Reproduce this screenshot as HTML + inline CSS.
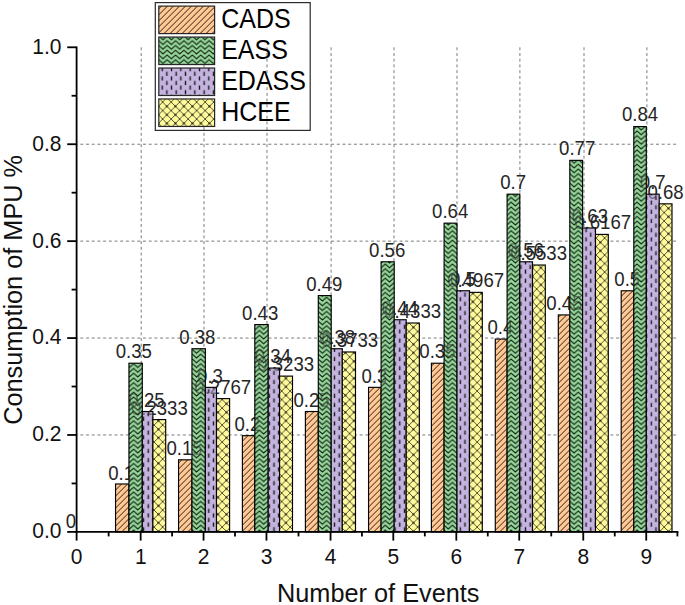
<!DOCTYPE html>
<html><head><meta charset="utf-8"><style>
html,body{margin:0;padding:0;background:#fff;}
svg{display:block;}
text{font-family:"Liberation Sans",sans-serif;}
</style></head><body>
<svg width="685" height="605" viewBox="0 0 685 605">
<defs>
<pattern id="pC" patternUnits="userSpaceOnUse" x="5.6" y="0" width="6" height="6">
<rect width="6" height="6" fill="#FFC894"/>
<path d="M-1,7 L7,-1 M-1,1 L1,-1 M5,7 L7,5" stroke="#24160c" stroke-width="0.95"/>
</pattern>
<pattern id="pE" patternUnits="userSpaceOnUse" x="7.75" y="2.7" width="8.39" height="4.75">
<rect width="8.39" height="4.75" fill="#96D69B"/>
<path d="M-2.1,1.9 L0,0 L4.2,3.8 L8.39,0 L10.5,1.9 M-2.1,6.65 L0,4.75 L4.2,8.55 L8.39,4.75 L10.5,6.65 M-2.1,-2.85 L0,-4.75 L4.2,-0.95 L8.39,-4.75 L10.5,-2.85" fill="none" stroke="#0a1a0a" stroke-width="1.0"/>
</pattern>
<pattern id="pD" patternUnits="userSpaceOnUse" x="6.17" y="6.9" width="9.316" height="9.2">
<rect width="9.316" height="9.2" fill="#C4B2DF"/>
<path d="M2.33,0.5 V4.5 M6.99,5.1 V9.1" stroke="#1a1a1a" stroke-width="1.35"/>
</pattern>
<pattern id="pH" patternUnits="userSpaceOnUse" x="1.15" y="0.05" width="8.5" height="8.5">
<rect width="8.5" height="8.5" fill="#FFFA9C"/>
<path d="M-1,9.5 L9.5,-1 M-1,-1 L9.5,9.5 M-1,1 L1,-1 M7.5,9.5 L9.5,7.5 M7.5,-1 L9.5,1 M-1,7.5 L1,9.5" stroke="#404024" stroke-width="0.9"/>
<circle cx="4.25" cy="4.25" r="1.0" fill="#000"/>
</pattern>
</defs>
<rect width="685" height="605" fill="#fff"/>
<g stroke="#7c7c7c" stroke-width="1" stroke-dasharray="3,2.7"><line x1="141.20" y1="47.30" x2="141.20" y2="531.90"/><line x1="204.00" y1="47.30" x2="204.00" y2="531.90"/><line x1="267.00" y1="47.30" x2="267.00" y2="531.90"/><line x1="331.10" y1="47.30" x2="331.10" y2="531.90"/><line x1="394.00" y1="47.30" x2="394.00" y2="531.90"/><line x1="457.00" y1="47.30" x2="457.00" y2="531.90"/><line x1="519.90" y1="47.30" x2="519.90" y2="531.90"/><line x1="584.00" y1="47.30" x2="584.00" y2="531.90"/><line x1="646.90" y1="47.30" x2="646.90" y2="531.90"/><line x1="76.60" y1="434.98" x2="678.2" y2="434.98" stroke-dashoffset="2"/><line x1="76.60" y1="338.06" x2="678.2" y2="338.06" stroke-dashoffset="2"/><line x1="76.60" y1="241.14" x2="678.2" y2="241.14" stroke-dashoffset="2"/><line x1="76.60" y1="144.22" x2="678.2" y2="144.22" stroke-dashoffset="2"/></g>
<rect x="155.3" y="2.6" width="154.90" height="127.80" fill="none" stroke="#2a2a2a" stroke-width="1.2"/>
<rect x="158.8" y="6.10" width="55.8" height="27.5" fill="url(#pC)" stroke="#262626" stroke-width="1.2"/>
<text transform="translate(221.2,28.20) scale(1,1.07)" font-size="25" fill="#000">CADS</text>
<rect x="158.8" y="37.05" width="55.8" height="27.5" fill="url(#pE)" stroke="#262626" stroke-width="1.2"/>
<text transform="translate(221.2,59.25) scale(1,1.07)" font-size="25" fill="#000">EASS</text>
<rect x="158.8" y="68.00" width="55.8" height="27.5" fill="url(#pD)" stroke="#262626" stroke-width="1.2"/>
<text transform="translate(221.2,90.30) scale(1,1.07)" font-size="25" fill="#000">EDASS</text>
<rect x="158.8" y="98.95" width="55.8" height="27.5" fill="url(#pH)" stroke="#262626" stroke-width="1.2"/>
<text transform="translate(221.2,121.35) scale(1,1.07)" font-size="25" fill="#000">HCEE</text>
<g><text transform="translate(121.07,479.64) scale(1,1.09)" font-size="18.6" fill="#262626" text-anchor="middle">0.1</text>
<text transform="translate(133.82,358.49) scale(1,1.09)" font-size="18.6" fill="#262626" text-anchor="middle">0.35</text>
<text transform="translate(146.57,406.95) scale(1,1.09)" font-size="18.6" fill="#262626" text-anchor="middle">0.25</text>
<text transform="translate(159.32,415.04) scale(1,1.09)" font-size="18.6" fill="#262626" text-anchor="middle">0.2333</text>
<text transform="translate(184.47,455.41) scale(1,1.09)" font-size="18.6" fill="#262626" text-anchor="middle">0.15</text>
<text transform="translate(197.22,343.95) scale(1,1.09)" font-size="18.6" fill="#262626" text-anchor="middle">0.38</text>
<text transform="translate(209.97,382.72) scale(1,1.09)" font-size="18.6" fill="#262626" text-anchor="middle">0.3</text>
<text transform="translate(222.72,394.01) scale(1,1.09)" font-size="18.6" fill="#262626" text-anchor="middle">0.2767</text>
<text transform="translate(247.43,431.18) scale(1,1.09)" font-size="18.6" fill="#262626" text-anchor="middle">0.2</text>
<text transform="translate(260.18,319.72) scale(1,1.09)" font-size="18.6" fill="#262626" text-anchor="middle">0.43</text>
<text transform="translate(272.93,363.34) scale(1,1.09)" font-size="18.6" fill="#262626" text-anchor="middle">0.34</text>
<text transform="translate(285.68,371.43) scale(1,1.09)" font-size="18.6" fill="#262626" text-anchor="middle">0.3233</text>
<text transform="translate(311.48,406.95) scale(1,1.09)" font-size="18.6" fill="#262626" text-anchor="middle">0.25</text>
<text transform="translate(324.23,290.65) scale(1,1.09)" font-size="18.6" fill="#262626" text-anchor="middle">0.49</text>
<text transform="translate(336.98,343.95) scale(1,1.09)" font-size="18.6" fill="#262626" text-anchor="middle">0.38</text>
<text transform="translate(349.73,347.20) scale(1,1.09)" font-size="18.6" fill="#262626" text-anchor="middle">0.3733</text>
<text transform="translate(374.43,382.72) scale(1,1.09)" font-size="18.6" fill="#262626" text-anchor="middle">0.3</text>
<text transform="translate(387.18,256.72) scale(1,1.09)" font-size="18.6" fill="#262626" text-anchor="middle">0.56</text>
<text transform="translate(399.93,314.88) scale(1,1.09)" font-size="18.6" fill="#262626" text-anchor="middle">0.44</text>
<text transform="translate(412.68,318.12) scale(1,1.09)" font-size="18.6" fill="#262626" text-anchor="middle">0.4333</text>
<text transform="translate(437.43,358.49) scale(1,1.09)" font-size="18.6" fill="#262626" text-anchor="middle">0.35</text>
<text transform="translate(450.18,217.96) scale(1,1.09)" font-size="18.6" fill="#262626" text-anchor="middle">0.64</text>
<text transform="translate(462.93,285.80) scale(1,1.09)" font-size="18.6" fill="#262626" text-anchor="middle">0.5</text>
<text transform="translate(475.68,287.40) scale(1,1.09)" font-size="18.6" fill="#262626" text-anchor="middle">0.4967</text>
<text transform="translate(500.33,334.26) scale(1,1.09)" font-size="18.6" fill="#262626" text-anchor="middle">0.4</text>
<text transform="translate(513.08,188.88) scale(1,1.09)" font-size="18.6" fill="#262626" text-anchor="middle">0.7</text>
<text transform="translate(525.83,256.72) scale(1,1.09)" font-size="18.6" fill="#262626" text-anchor="middle">0.56</text>
<text transform="translate(538.58,259.97) scale(1,1.09)" font-size="18.6" fill="#262626" text-anchor="middle">0.5533</text>
<text transform="translate(564.43,310.03) scale(1,1.09)" font-size="18.6" fill="#262626" text-anchor="middle">0.45</text>
<text transform="translate(577.18,154.96) scale(1,1.09)" font-size="18.6" fill="#262626" text-anchor="middle">0.77</text>
<text transform="translate(589.93,222.80) scale(1,1.09)" font-size="18.6" fill="#262626" text-anchor="middle">0.63</text>
<text transform="translate(602.68,229.25) scale(1,1.09)" font-size="18.6" fill="#262626" text-anchor="middle">0.6167</text>
<text transform="translate(627.27,285.80) scale(1,1.09)" font-size="18.6" fill="#262626" text-anchor="middle">0.5</text>
<text transform="translate(640.02,121.04) scale(1,1.09)" font-size="18.6" fill="#262626" text-anchor="middle">0.84</text>
<text transform="translate(652.77,188.88) scale(1,1.09)" font-size="18.6" fill="#262626" text-anchor="middle">0.7</text>
<text transform="translate(665.52,198.57) scale(1,1.09)" font-size="18.6" fill="#262626" text-anchor="middle">0.68</text>
</g>
<rect x="115.55" y="483.97" width="13.40" height="47.93" fill="url(#pC)" stroke="#000" stroke-width="1.15"/>
<rect x="128.95" y="363.22" width="13.35" height="168.68" fill="url(#pE)" stroke="#000" stroke-width="1.15"/>
<rect x="142.30" y="411.52" width="10.60" height="120.38" fill="url(#pD)" stroke="#000" stroke-width="1.15"/>
<rect x="152.90" y="419.59" width="12.80" height="112.31" fill="url(#pH)" stroke="#000" stroke-width="1.15"/>
<rect x="178.55" y="459.82" width="13.40" height="72.08" fill="url(#pC)" stroke="#000" stroke-width="1.15"/>
<rect x="191.95" y="348.73" width="13.40" height="183.17" fill="url(#pE)" stroke="#000" stroke-width="1.15"/>
<rect x="205.35" y="387.37" width="11.15" height="144.53" fill="url(#pD)" stroke="#000" stroke-width="1.15"/>
<rect x="216.50" y="398.62" width="13.10" height="133.28" fill="url(#pH)" stroke="#000" stroke-width="1.15"/>
<rect x="242.40" y="435.67" width="12.40" height="96.23" fill="url(#pC)" stroke="#000" stroke-width="1.15"/>
<rect x="254.80" y="324.58" width="13.40" height="207.32" fill="url(#pE)" stroke="#000" stroke-width="1.15"/>
<rect x="268.20" y="368.05" width="11.40" height="163.85" fill="url(#pD)" stroke="#000" stroke-width="1.15"/>
<rect x="279.60" y="376.12" width="12.90" height="155.78" fill="url(#pH)" stroke="#000" stroke-width="1.15"/>
<rect x="305.40" y="411.52" width="12.90" height="120.38" fill="url(#pC)" stroke="#000" stroke-width="1.15"/>
<rect x="318.30" y="295.60" width="12.90" height="236.30" fill="url(#pE)" stroke="#000" stroke-width="1.15"/>
<rect x="331.20" y="348.73" width="11.10" height="183.17" fill="url(#pD)" stroke="#000" stroke-width="1.15"/>
<rect x="342.30" y="351.97" width="13.20" height="179.93" fill="url(#pH)" stroke="#000" stroke-width="1.15"/>
<rect x="368.55" y="387.37" width="12.55" height="144.53" fill="url(#pC)" stroke="#000" stroke-width="1.15"/>
<rect x="381.10" y="261.79" width="13.10" height="270.11" fill="url(#pE)" stroke="#000" stroke-width="1.15"/>
<rect x="394.20" y="319.75" width="12.00" height="212.15" fill="url(#pD)" stroke="#000" stroke-width="1.15"/>
<rect x="406.20" y="322.99" width="13.15" height="208.91" fill="url(#pH)" stroke="#000" stroke-width="1.15"/>
<rect x="431.40" y="363.22" width="12.70" height="168.68" fill="url(#pC)" stroke="#000" stroke-width="1.15"/>
<rect x="444.10" y="223.15" width="12.90" height="308.75" fill="url(#pE)" stroke="#000" stroke-width="1.15"/>
<rect x="457.00" y="290.77" width="12.50" height="241.13" fill="url(#pD)" stroke="#000" stroke-width="1.15"/>
<rect x="469.50" y="292.36" width="12.80" height="239.54" fill="url(#pH)" stroke="#000" stroke-width="1.15"/>
<rect x="495.30" y="339.07" width="11.80" height="192.83" fill="url(#pC)" stroke="#000" stroke-width="1.15"/>
<rect x="507.10" y="194.17" width="12.70" height="337.73" fill="url(#pE)" stroke="#000" stroke-width="1.15"/>
<rect x="519.80" y="261.79" width="12.70" height="270.11" fill="url(#pD)" stroke="#000" stroke-width="1.15"/>
<rect x="532.50" y="265.03" width="12.80" height="266.87" fill="url(#pH)" stroke="#000" stroke-width="1.15"/>
<rect x="558.30" y="314.92" width="11.50" height="216.98" fill="url(#pC)" stroke="#000" stroke-width="1.15"/>
<rect x="569.80" y="160.36" width="12.80" height="371.54" fill="url(#pE)" stroke="#000" stroke-width="1.15"/>
<rect x="582.60" y="227.98" width="12.90" height="303.92" fill="url(#pD)" stroke="#000" stroke-width="1.15"/>
<rect x="595.50" y="234.40" width="12.80" height="297.50" fill="url(#pH)" stroke="#000" stroke-width="1.15"/>
<rect x="621.20" y="290.77" width="12.60" height="241.13" fill="url(#pC)" stroke="#000" stroke-width="1.15"/>
<rect x="633.80" y="126.55" width="12.50" height="405.35" fill="url(#pE)" stroke="#000" stroke-width="1.15"/>
<rect x="646.30" y="194.17" width="12.90" height="337.73" fill="url(#pD)" stroke="#000" stroke-width="1.15"/>
<rect x="659.20" y="203.83" width="12.80" height="328.07" fill="url(#pH)" stroke="#000" stroke-width="1.15"/>
<clipPath id="barclip"><rect x="114.85" y="483.27" width="14.80" height="48.63"/><rect x="128.25" y="362.52" width="14.75" height="169.38"/><rect x="141.60" y="410.82" width="12.00" height="121.08"/><rect x="152.20" y="418.89" width="14.20" height="113.01"/><rect x="177.85" y="459.12" width="14.80" height="72.78"/><rect x="191.25" y="348.03" width="14.80" height="183.87"/><rect x="204.65" y="386.67" width="12.55" height="145.23"/><rect x="215.80" y="397.92" width="14.50" height="133.98"/><rect x="241.70" y="434.97" width="13.80" height="96.93"/><rect x="254.10" y="323.88" width="14.80" height="208.02"/><rect x="267.50" y="367.35" width="12.80" height="164.55"/><rect x="278.90" y="375.42" width="14.30" height="156.48"/><rect x="304.70" y="410.82" width="14.30" height="121.08"/><rect x="317.60" y="294.90" width="14.30" height="237.00"/><rect x="330.50" y="348.03" width="12.50" height="183.87"/><rect x="341.60" y="351.27" width="14.60" height="180.63"/><rect x="367.85" y="386.67" width="13.95" height="145.23"/><rect x="380.40" y="261.09" width="14.50" height="270.81"/><rect x="393.50" y="319.05" width="13.40" height="212.85"/><rect x="405.50" y="322.29" width="14.55" height="209.61"/><rect x="430.70" y="362.52" width="14.10" height="169.38"/><rect x="443.40" y="222.45" width="14.30" height="309.45"/><rect x="456.30" y="290.07" width="13.90" height="241.83"/><rect x="468.80" y="291.66" width="14.20" height="240.24"/><rect x="494.60" y="338.37" width="13.20" height="193.53"/><rect x="506.40" y="193.47" width="14.10" height="338.43"/><rect x="519.10" y="261.09" width="14.10" height="270.81"/><rect x="531.80" y="264.33" width="14.20" height="267.57"/><rect x="557.60" y="314.22" width="12.90" height="217.68"/><rect x="569.10" y="159.66" width="14.20" height="372.24"/><rect x="581.90" y="227.28" width="14.30" height="304.62"/><rect x="594.80" y="233.70" width="14.20" height="298.20"/><rect x="620.50" y="290.07" width="14.00" height="241.83"/><rect x="633.10" y="125.85" width="13.90" height="406.05"/><rect x="645.60" y="193.47" width="14.30" height="338.43"/><rect x="658.50" y="203.13" width="14.20" height="328.77"/></clipPath>
<g opacity="0.5" clip-path="url(#barclip)"><text transform="translate(121.07,479.64) scale(1,1.09)" font-size="18.6" fill="#262626" text-anchor="middle">0.1</text>
<text transform="translate(133.82,358.49) scale(1,1.09)" font-size="18.6" fill="#262626" text-anchor="middle">0.35</text>
<text transform="translate(146.57,406.95) scale(1,1.09)" font-size="18.6" fill="#262626" text-anchor="middle">0.25</text>
<text transform="translate(159.32,415.04) scale(1,1.09)" font-size="18.6" fill="#262626" text-anchor="middle">0.2333</text>
<text transform="translate(184.47,455.41) scale(1,1.09)" font-size="18.6" fill="#262626" text-anchor="middle">0.15</text>
<text transform="translate(197.22,343.95) scale(1,1.09)" font-size="18.6" fill="#262626" text-anchor="middle">0.38</text>
<text transform="translate(209.97,382.72) scale(1,1.09)" font-size="18.6" fill="#262626" text-anchor="middle">0.3</text>
<text transform="translate(222.72,394.01) scale(1,1.09)" font-size="18.6" fill="#262626" text-anchor="middle">0.2767</text>
<text transform="translate(247.43,431.18) scale(1,1.09)" font-size="18.6" fill="#262626" text-anchor="middle">0.2</text>
<text transform="translate(260.18,319.72) scale(1,1.09)" font-size="18.6" fill="#262626" text-anchor="middle">0.43</text>
<text transform="translate(272.93,363.34) scale(1,1.09)" font-size="18.6" fill="#262626" text-anchor="middle">0.34</text>
<text transform="translate(285.68,371.43) scale(1,1.09)" font-size="18.6" fill="#262626" text-anchor="middle">0.3233</text>
<text transform="translate(311.48,406.95) scale(1,1.09)" font-size="18.6" fill="#262626" text-anchor="middle">0.25</text>
<text transform="translate(324.23,290.65) scale(1,1.09)" font-size="18.6" fill="#262626" text-anchor="middle">0.49</text>
<text transform="translate(336.98,343.95) scale(1,1.09)" font-size="18.6" fill="#262626" text-anchor="middle">0.38</text>
<text transform="translate(349.73,347.20) scale(1,1.09)" font-size="18.6" fill="#262626" text-anchor="middle">0.3733</text>
<text transform="translate(374.43,382.72) scale(1,1.09)" font-size="18.6" fill="#262626" text-anchor="middle">0.3</text>
<text transform="translate(387.18,256.72) scale(1,1.09)" font-size="18.6" fill="#262626" text-anchor="middle">0.56</text>
<text transform="translate(399.93,314.88) scale(1,1.09)" font-size="18.6" fill="#262626" text-anchor="middle">0.44</text>
<text transform="translate(412.68,318.12) scale(1,1.09)" font-size="18.6" fill="#262626" text-anchor="middle">0.4333</text>
<text transform="translate(437.43,358.49) scale(1,1.09)" font-size="18.6" fill="#262626" text-anchor="middle">0.35</text>
<text transform="translate(450.18,217.96) scale(1,1.09)" font-size="18.6" fill="#262626" text-anchor="middle">0.64</text>
<text transform="translate(462.93,285.80) scale(1,1.09)" font-size="18.6" fill="#262626" text-anchor="middle">0.5</text>
<text transform="translate(475.68,287.40) scale(1,1.09)" font-size="18.6" fill="#262626" text-anchor="middle">0.4967</text>
<text transform="translate(500.33,334.26) scale(1,1.09)" font-size="18.6" fill="#262626" text-anchor="middle">0.4</text>
<text transform="translate(513.08,188.88) scale(1,1.09)" font-size="18.6" fill="#262626" text-anchor="middle">0.7</text>
<text transform="translate(525.83,256.72) scale(1,1.09)" font-size="18.6" fill="#262626" text-anchor="middle">0.56</text>
<text transform="translate(538.58,259.97) scale(1,1.09)" font-size="18.6" fill="#262626" text-anchor="middle">0.5533</text>
<text transform="translate(564.43,310.03) scale(1,1.09)" font-size="18.6" fill="#262626" text-anchor="middle">0.45</text>
<text transform="translate(577.18,154.96) scale(1,1.09)" font-size="18.6" fill="#262626" text-anchor="middle">0.77</text>
<text transform="translate(589.93,222.80) scale(1,1.09)" font-size="18.6" fill="#262626" text-anchor="middle">0.63</text>
<text transform="translate(602.68,229.25) scale(1,1.09)" font-size="18.6" fill="#262626" text-anchor="middle">0.6167</text>
<text transform="translate(627.27,285.80) scale(1,1.09)" font-size="18.6" fill="#262626" text-anchor="middle">0.5</text>
<text transform="translate(640.02,121.04) scale(1,1.09)" font-size="18.6" fill="#262626" text-anchor="middle">0.84</text>
<text transform="translate(652.77,188.88) scale(1,1.09)" font-size="18.6" fill="#262626" text-anchor="middle">0.7</text>
<text transform="translate(665.52,198.57) scale(1,1.09)" font-size="18.6" fill="#262626" text-anchor="middle">0.68</text>
</g>
<text transform="translate(71.00,528.10) scale(1,1.09)" font-size="18.6" fill="#262626" text-anchor="middle">0</text>
<g stroke="#000" stroke-width="1.8" stroke-linecap="butt"><line x1="76.60" y1="46.40" x2="76.60" y2="532.80"/><line x1="75.70" y1="531.90" x2="678.4" y2="531.90"/><line x1="67.20" y1="531.90" x2="76.60" y2="531.90"/><line x1="67.20" y1="434.98" x2="76.60" y2="434.98"/><line x1="67.20" y1="338.06" x2="76.60" y2="338.06"/><line x1="67.20" y1="241.14" x2="76.60" y2="241.14"/><line x1="67.20" y1="144.22" x2="76.60" y2="144.22"/><line x1="67.20" y1="47.30" x2="76.60" y2="47.30"/><line x1="71.60" y1="483.44" x2="76.60" y2="483.44"/><line x1="71.60" y1="386.52" x2="76.60" y2="386.52"/><line x1="71.60" y1="289.60" x2="76.60" y2="289.60"/><line x1="71.60" y1="192.68" x2="76.60" y2="192.68"/><line x1="71.60" y1="95.76" x2="76.60" y2="95.76"/><line x1="76.60" y1="531.90" x2="76.60" y2="540.60"/><line x1="140.66" y1="531.90" x2="140.66" y2="540.60"/><line x1="203.55" y1="531.90" x2="203.55" y2="540.60"/><line x1="266.47" y1="531.90" x2="266.47" y2="540.60"/><line x1="330.55" y1="531.90" x2="330.55" y2="540.60"/><line x1="393.30" y1="531.90" x2="393.30" y2="540.60"/><line x1="456.32" y1="531.90" x2="456.32" y2="540.60"/><line x1="519.23" y1="531.90" x2="519.23" y2="540.60"/><line x1="583.27" y1="531.90" x2="583.27" y2="540.60"/><line x1="646.23" y1="531.90" x2="646.23" y2="540.60"/><line x1="108.63" y1="531.90" x2="108.63" y2="536.40"/><line x1="172.11" y1="531.90" x2="172.11" y2="536.40"/><line x1="235.01" y1="531.90" x2="235.01" y2="536.40"/><line x1="298.51" y1="531.90" x2="298.51" y2="536.40"/><line x1="361.93" y1="531.90" x2="361.93" y2="536.40"/><line x1="424.81" y1="531.90" x2="424.81" y2="536.40"/><line x1="487.77" y1="531.90" x2="487.77" y2="536.40"/><line x1="551.25" y1="531.90" x2="551.25" y2="536.40"/><line x1="614.75" y1="531.90" x2="614.75" y2="536.40"/><line x1="677.40" y1="531.90" x2="677.40" y2="536.40"/></g>
<text transform="translate(61.5,537.50) scale(1,1.04)" font-size="21" fill="#111" text-anchor="end">0.0</text>
<text transform="translate(61.5,440.84) scale(1,1.04)" font-size="21" fill="#111" text-anchor="end">0.2</text>
<text transform="translate(61.5,344.18) scale(1,1.04)" font-size="21" fill="#111" text-anchor="end">0.4</text>
<text transform="translate(61.5,247.52) scale(1,1.04)" font-size="21" fill="#111" text-anchor="end">0.6</text>
<text transform="translate(61.5,150.86) scale(1,1.04)" font-size="21" fill="#111" text-anchor="end">0.8</text>
<text transform="translate(61.5,54.20) scale(1,1.04)" font-size="21" fill="#111" text-anchor="end">1.0</text>
<text transform="translate(76.70,564.4) scale(1,1.04)" font-size="21" fill="#111" text-anchor="middle">0</text>
<text transform="translate(140.76,564.4) scale(1,1.04)" font-size="21" fill="#111" text-anchor="middle">1</text>
<text transform="translate(203.65,564.4) scale(1,1.04)" font-size="21" fill="#111" text-anchor="middle">2</text>
<text transform="translate(266.57,564.4) scale(1,1.04)" font-size="21" fill="#111" text-anchor="middle">3</text>
<text transform="translate(330.65,564.4) scale(1,1.04)" font-size="21" fill="#111" text-anchor="middle">4</text>
<text transform="translate(393.40,564.4) scale(1,1.04)" font-size="21" fill="#111" text-anchor="middle">5</text>
<text transform="translate(456.42,564.4) scale(1,1.04)" font-size="21" fill="#111" text-anchor="middle">6</text>
<text transform="translate(519.33,564.4) scale(1,1.04)" font-size="21" fill="#111" text-anchor="middle">7</text>
<text transform="translate(583.37,564.4) scale(1,1.04)" font-size="21" fill="#111" text-anchor="middle">8</text>
<text transform="translate(646.33,564.4) scale(1,1.04)" font-size="21" fill="#111" text-anchor="middle">9</text>
<text x="378.25" y="602.4" font-size="25.3" fill="#111" text-anchor="middle">Number of Events</text>
<text transform="translate(21.7,289.90) rotate(-90)" x="0" y="0" font-size="25.3" fill="#111" text-anchor="middle">Consumption of MPU %</text>
</svg></body></html>
